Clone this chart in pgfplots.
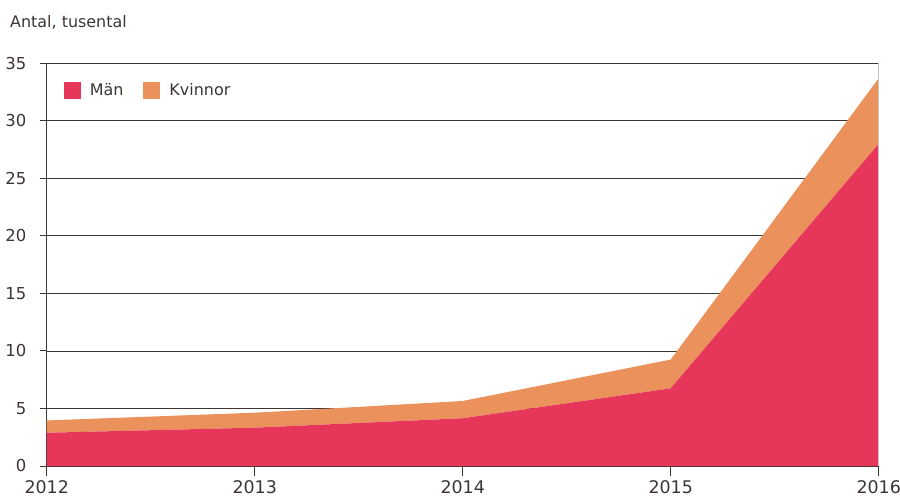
\documentclass[border=0pt]{standalone}
\usepackage{pgfplots}
\pgfplotsset{compat=1.18}
\usepackage{fontspec}
\setmainfont{DejaVu Sans}
\definecolor{manred}{HTML}{E6375A}
\definecolor{kvorange}{HTML}{EA915C}
\definecolor{axisdark}{HTML}{3C3532}
\begin{document}
\begin{tikzpicture}
\path[use as bounding box] (-46.7bp,-31bp) rectangle (853.3bp,466bp);
\begin{axis}[
  scale only axis,
  width=832bp, height=402.7bp,
  xmin=2012, xmax=2016,
  ymin=0, ymax=35,
  xtick={2012,2013,2014,2015,2016},
  ytick={0,5,10,15,20,25,30,35},
  axis x line*=bottom,
  axis y line*=left,
  axis line style={color=axisdark, line width=0.9bp},
  tick align=outside,
  major tick length=6.7bp,
  xtick style={color=axisdark, line width=0.9bp, /pgfplots/major tick length=10bp},
  ytick style={color=axisdark, line width=0.9bp},
  ymajorgrids,
  major grid style={color=axisdark, line width=0.8bp},
  /pgf/number format/1000 sep={},
  /pgf/number format/assume math mode=true,
  xticklabel style={font=\fontsize{17.5}{20}\selectfont, text=axisdark, anchor=base, inner sep=0pt, yshift=-21bp},
  yticklabel style={font=\fontsize{16.5}{19}\selectfont, text=axisdark, anchor=east, inner sep=0pt, xshift=-13.5bp},
  stack plots=y,
  legend columns=2,
  legend style={at={(0,1)}, anchor=north west, xshift=14bp, yshift=-16bp, draw=none, fill=none,
    font=\fontsize{16}{19}\selectfont, text=axisdark,
    /tikz/every odd column/.append style={column sep=7bp},
    /tikz/every even column/.append style={column sep=18bp}},
  legend image code/.code={\fill[#1] (0bp,-8.5bp) rectangle (17bp,8.5bp);},
  clip=false,
]
\draw[color=gray!45, line width=0.8bp] (rel axis cs:1,0) -- (rel axis cs:1,1);
\addplot[draw=none, fill=manred] coordinates {(2012,2.89) (2013,3.33) (2014,4.15) (2015,6.75) (2016,28.0)} \closedcycle;
\addlegendentry{Män}
\addplot[draw=none, fill=kvorange] coordinates {(2012,1.07) (2013,1.30) (2014,1.50) (2015,2.50) (2016,5.70)} \closedcycle;
\addlegendentry{Kvinnor}
\end{axis}
\node[anchor=base west, inner sep=0pt, font=\fontsize{16}{19}\selectfont, text=axisdark] at (-36.7bp,438bp) {Antal, tusental};
\end{tikzpicture}
\end{document}
